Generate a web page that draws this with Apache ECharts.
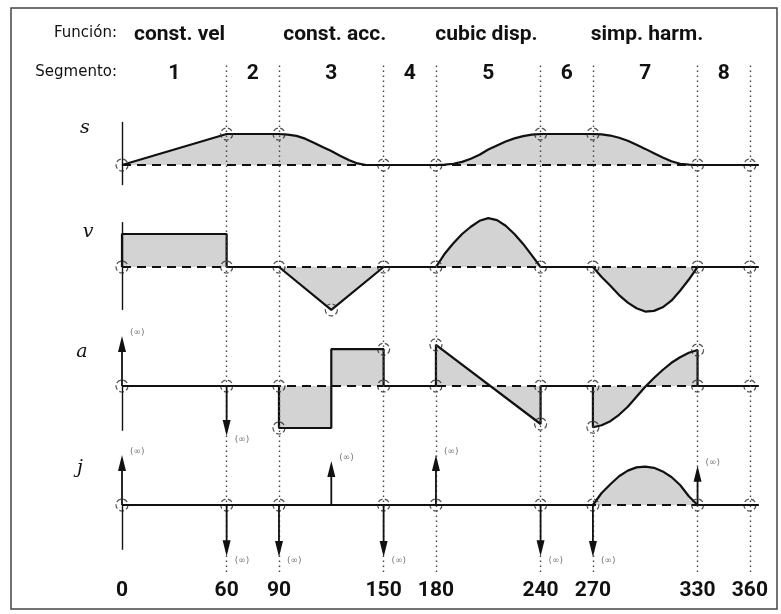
<!DOCTYPE html>
<html>
<head>
<meta charset="utf-8">
<title>s v a j</title>
<script src="https://cdn.jsdelivr.net/npm/echarts@6/dist/echarts.min.js"></script>
<style>
  html, body { margin: 0; padding: 0; background: #fff; }
  #chart { width: 781px; height: 614px; }
</style>
</head>
<body>
<div id="chart"></div>
<script>
// segment boundaries (deg) and top labels
var xTicks = [0, 60, 90, 150, 180, 240, 270, 330, 360];
var segMid = [30, 75, 120, 165, 210, 255, 300, 345];
var segNames = ['1', '2', '3', '4', '5', '6', '7', '8'];
var funcMid = [33, 122, 209, 301];
var funcNames = ['const. vel', 'const. acc.', 'cubic disp.', 'simp. harm.'];

// traces, [deg, value]
var sPts = [[0,0],[60,1],[90,1],[95,0.98],[100,0.94],[105,0.85],[110,0.72],[115,0.58],[120,0.45],[125,0.3],[130,0.16],[135,0.05],[140,0],[180,0],
  [185,0.01],[190,0.04],[195,0.1],[200,0.2],[205,0.33],[210,0.5],[215,0.63],[220,0.76],[225,0.86],[230,0.93],[235,0.98],[240,1],[270,1],
  [275,0.99],[280,0.95],[285,0.88],[290,0.78],[295,0.65],[300,0.52],[305,0.38],[310,0.24],[315,0.12],[320,0.04],[325,0.01],[330,0],[365,0]];
var vPts = [[0,0],[0,1],[60,1],[60,0],[90,0],[120,-1.3],[150,0],[180,0],
  [185,0.4],[190,0.72],[195,1.0],[200,1.22],[205,1.4],[210,1.48],[215,1.42],[220,1.25],[225,1.0],[230,0.7],[235,0.35],[240,0],[270,0],
  [275,-0.3],[280,-0.57],[285,-0.85],[290,-1.08],[295,-1.25],[300,-1.35],[305,-1.33],[310,-1.22],[315,-1.02],[320,-0.72],[325,-0.38],[330,0],[365,0]];
var aPts = [[0,0],[90,0],[90,-1.05],[120,-1.05],[120,0.92],[150,0.92],[150,0],[180,0],[180,1.03],[240,-0.95],[240,0],[270,0],
  [270,-1.03],[275,-0.98],[280,-0.88],[285,-0.72],[290,-0.52],[295,-0.27],[300,-0.02],[305,0.2],[310,0.4],[315,0.58],[320,0.72],[325,0.83],[330,0.9],[330,0],[365,0]];
var jPts = [[0,0],[270,0],[275,0.3],[280,0.52],[285,0.72],[290,0.86],[295,0.94],[300,0.96],[305,0.93],[310,0.84],[315,0.7],[320,0.5],[325,0.22],[330,0],[365,0]];

// dashed circles at the segment joints
var sRings = [[0,0],[60,1],[90,1],[150,0],[180,0],[240,1],[270,1],[330,0],[360,0]];
var vRings = [[0,0],[60,0],[90,0],[120,-1.3],[150,0],[180,0],[240,0],[270,0],[330,0],[360,0]];
var aRings = [[0,0],[60,0],[90,0],[90,-1.05],[150,0.92],[150,0],[180,1.03],[180,0],[240,0],[240,-0.95],[270,0],[270,-1.03],[330,0.9],[330,0],[360,0]];
var jRings = [[0,0],[60,0],[90,0],[150,0],[180,0],[240,0],[270,0],[330,0],[360,0]];

// infinite spikes (arrows)
var aImpulse = [[0,1.25],[60,-1.25]];
var jImpulse = [[0,1.25],[60,-1.28],[90,-1.3],[120,1.1],[150,-1.3],[180,1.25],[240,-1.28],[270,-1.3],[330,0.98]];

// vertical stub at 0 deg, [bottom, top]
var sStub = [-0.65, 1.39];
var vStub = [-1.3, 1.36];
var aStub = [-1.12, 0];
var jStub = [-1.12, 0];

var bigFont = "Roboto, 'Liberation Sans', sans-serif";

var panels = [
  {pts: sPts, rings: sRings, stub: sStub, imp: [], top: 118.5, height: 77.5, min: -1, max: 1.5},
  {pts: vPts, rings: vRings, stub: vStub, imp: [], top: 214.2, height: 102.3, min: -1.5, max: 1.6},
  {pts: aPts, rings: aRings, stub: aStub, imp: aImpulse, top: 330, height: 112, min: -1.4, max: 1.4},
  {pts: jPts, rings: jRings, stub: jStub, imp: jImpulse, top: 449, height: 112, min: -1.4, max: 1.4}
];

function impulseItem(params, api) {
  var x = api.value(0), y = api.value(1);
  var base = api.coord([x, 0]), tip = api.coord([x, y]);
  var d = y > 0 ? 1 : -1;
  var headLen = 16, half = 4;
  return {
    type: 'group',
    children: [
      {type: 'line', shape: {x1: base[0], y1: base[1], x2: tip[0], y2: tip[1] + d * 8},
        style: {stroke: '#111', lineWidth: 1.8}},
      {type: 'polygon', shape: {points: [[tip[0], tip[1]], [tip[0] - half, tip[1] + d * headLen], [tip[0] + half, tip[1] + d * headLen]]},
        style: {fill: '#111'}},
      {type: 'text', x: tip[0] + 8, y: tip[1] + (d > 0 ? -3 : 4),
        style: {text: '(∞)', fill: '#777', font: '9px DejaVu Sans', verticalAlign: 'middle', textVerticalAlign: 'middle'}}
    ]
  };
}

var grid = [], xAxis = [], yAxis = [], series = [];
panels.forEach(function (p, i) {
  grid.push({left: 122, right: 22.4, top: p.top, height: p.height});
  xAxis.push({gridIndex: i, type: 'value', min: 0, max: 365, show: false});
  yAxis.push({gridIndex: i, type: 'value', min: p.min, max: p.max, show: false});
  series.push({
    type: 'line', xAxisIndex: i, yAxisIndex: i, data: p.pts, symbol: 'none', clip: false, z: 3,
    lineStyle: {color: '#111', width: 2.2},
    areaStyle: {color: 'rgba(140,140,140,0.55)', origin: 0},
    markLine: {
      silent: true, symbol: 'none', label: {show: false}, animation: false,
      data: [
        [{coord: [0, 0], lineStyle: {type: [9, 6], color: '#111', width: 1.8}}, {coord: [365, 0]}],
        [{coord: [0, p.stub[0]], lineStyle: {type: 'solid', color: '#111', width: 1.4}}, {coord: [0, p.stub[1]]}]
      ]
    }
  });
  series.push({
    type: 'scatter', xAxisIndex: i, yAxisIndex: i, data: p.rings, symbol: 'circle', symbolSize: 12, z: 4, clip: false,
    itemStyle: {color: 'rgba(255,255,255,0)', borderColor: '#222', borderWidth: 1.2, borderType: 'dashed'}
  });
  if (p.imp.length) {
    series.push({
      type: 'custom', xAxisIndex: i, yAxisIndex: i, data: p.imp, renderItem: impulseItem,
      encode: {x: 0, y: 1}, z: 5, clip: false
    });
  }
});

// overlay grid: dotted joint lines and text rows
grid.push({left: 122, right: 22.4, top: 62, height: 510});
var hidden = {axisLine: {show: false}, axisTick: {show: false}, splitLine: {show: false}};
xAxis.push(Object.assign({gridIndex: 4, type: 'value', min: 0, max: 365, position: 'top',
  axisLabel: {customValues: segMid, margin: -22, fontSize: 21, fontWeight: 'bold', color: '#111', fontFamily: bigFont,
    formatter: function (v) { return segNames[segMid.indexOf(v)]; }}}, hidden));
xAxis.push(Object.assign({gridIndex: 4, type: 'value', min: 0, max: 365, position: 'top',
  axisLabel: {customValues: funcMid, margin: 17, fontSize: 21, fontWeight: 'bold', color: '#111', fontFamily: bigFont,
    formatter: function (v) { return funcNames[funcMid.indexOf(v)]; }}}, hidden));
xAxis.push(Object.assign({gridIndex: 4, type: 'value', min: 0, max: 365, position: 'bottom',
  axisLabel: {customValues: xTicks, margin: 8, fontSize: 21, fontWeight: 'bold', color: '#111', fontFamily: bigFont}}, hidden));
yAxis.push({gridIndex: 4, type: 'value', min: 0, max: 1, show: false});
series.push({
  type: 'line', xAxisIndex: 6, yAxisIndex: 4, data: [[0, 0]], symbol: 'none', z: 1,
  markLine: {
    silent: true, symbol: 'none', label: {show: false}, animation: false,
    lineStyle: {type: [1.5, 3.5], color: '#444', width: 1.4},
    data: xTicks.slice(1).map(function (v) { return {xAxis: v}; })
  }
});

function txt(text, x, y, font, align) {
  return {type: 'text', x: x, y: y, silent: true,
    style: {text: text, font: font, fill: '#111', align: align, textAlign: align, verticalAlign: 'middle', textVerticalAlign: 'middle'}};
}

var myChart = echarts.init(document.getElementById('chart'));
myChart.setOption({
  animation: false,
  backgroundColor: '#fff',
  grid: grid,
  xAxis: xAxis,
  yAxis: yAxis,
  series: series,
  graphic: [
    {type: 'rect', silent: true, shape: {x: 11, y: 8, width: 766, height: 601}, style: {fill: 'none', stroke: '#444', lineWidth: 1.5}},
    txt('Función:', 117, 33, '15px DejaVu Sans', 'right'),
    txt('Segmento:', 117, 72, '15px DejaVu Sans', 'right'),
    txt('s', 85, 128, 'italic 19px DejaVu Serif', 'center'),
    txt('v', 88, 232, 'italic 19px DejaVu Serif', 'center'),
    txt('a', 82, 352, 'italic 19px DejaVu Serif', 'center'),
    txt('j', 80, 468, 'italic 19px DejaVu Serif', 'center')
  ]
});
</script>
</body>
</html>
